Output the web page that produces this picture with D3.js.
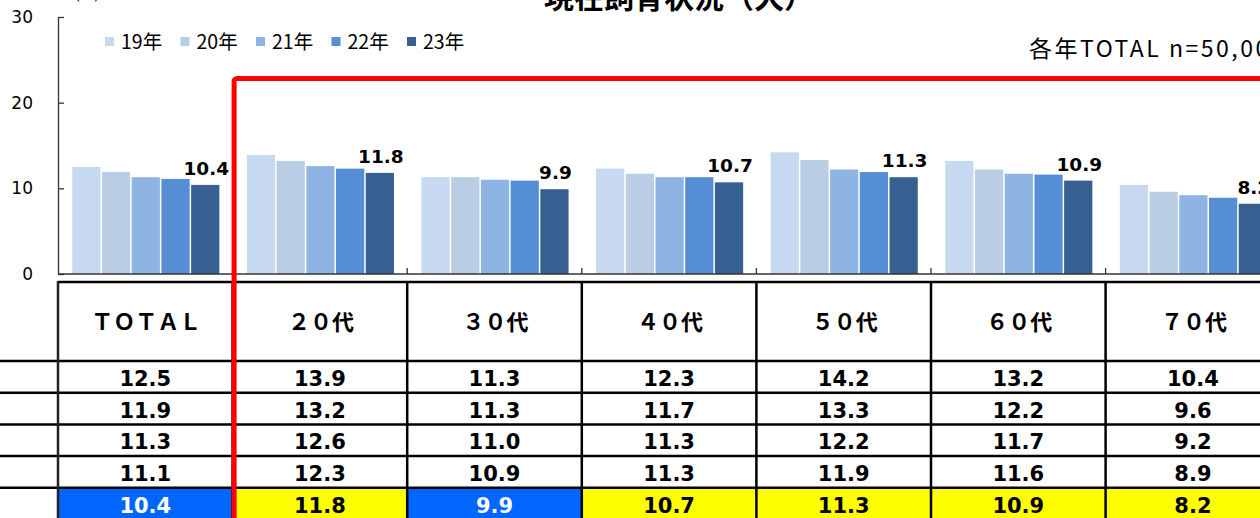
<!DOCTYPE html>
<html>
<head>
<meta charset="utf-8">
<script src="https://cdn.jsdelivr.net/npm/d3@7"></script>
<style>
  body { margin: 0; background: #fff; }
  svg { display: block; }
</style>
</head>
<body>
<div id="chart"></div>
<script>
// data
var categories = ["TOTAL", "20代", "30代", "40代", "50代", "60代", "70代"];
var headerLabels = ["ＴＯＴＡＬ", "２０代", "３０代", "４０代", "５０代", "６０代", "７０代"];
var years = ["19年", "20年", "21年", "22年", "23年"];
var y19 = [12.5, 13.9, 11.3, 12.3, 14.2, 13.2, 10.4];
var y20 = [11.9, 13.2, 11.3, 11.7, 13.3, 12.2, 9.6];
var y21 = [11.3, 12.6, 11.0, 11.3, 12.2, 11.7, 9.2];
var y22 = [11.1, 12.3, 10.9, 11.3, 11.9, 11.6, 8.9];
var y23 = [10.4, 11.8, 9.9, 10.7, 11.3, 10.9, 8.2];
// marking of the latest-year row in the table
var lastRowMark = ["base", "up", "base", "up", "up", "up", "up"];
var yTicks = [0, 10, 20, 30];

var series = [y19, y20, y21, y22, y23];
var colors = ["#c6d9f1", "#b9cde5", "#8eb4e3", "#558ed5", "#366092"];
var markFill = { base: "#0066ff", up: "#ffff00" };
var markText = { base: "#ffffff", up: "#000000" };

var W = 1260, H = 518;
var left = 58, colW = 174.6;
var plotTop = 17, plotBottom = 274;

var svg = d3.select("#chart").append("svg")
    .attr("width", W)
    .attr("height", H);

// scales
var x = d3.scaleBand()
    .domain(categories)
    .range([left, left + colW * categories.length])
    .padding(0);
var x1 = d3.scaleBand()
    .domain(years)
    .range([13.5, colW - 12.5])
    .padding(0);
var y = d3.scaleLinear()
    .domain([0, 30])
    .range([plotBottom, plotTop]);

// title (cut off at top)
svg.append("text")
    .attr("x", 679).attr("y", 8)
    .attr("text-anchor", "middle")
    .style("font-family", "'Noto Sans CJK JP', sans-serif")
    .style("font-size", "30px")
    .style("font-weight", "bold")
    .text("現在飼育状況（犬）");

svg.append("text")
    .attr("x", 87).attr("y", 0)
    .attr("text-anchor", "middle")
    .style("font-family", "'DejaVu Sans', sans-serif")
    .style("font-size", "14px")
    .text("(%)");

// y axis
var yAxis = svg.append("g")
    .attr("transform", "translate(" + left + ",0)")
    .call(d3.axisLeft(y).tickValues(yTicks).tickSizeInner(-6).tickSizeOuter(0).tickPadding(25));
yAxis.select(".domain").attr("stroke", "#333").attr("stroke-width", 1.3);
yAxis.selectAll(".tick line").attr("stroke", "#333").attr("stroke-width", 1.3);
yAxis.selectAll(".tick text")
    .style("font-family", "'DejaVu Sans', sans-serif")
    .style("font-size", "17px")
    .attr("fill", "#000");

// bars
var groups = svg.selectAll(".grp")
    .data(categories)
    .enter().append("g")
    .attr("class", "grp")
    .attr("transform", function(d) { return "translate(" + x(d) + ",0)"; });

groups.selectAll("rect")
    .data(function(d, i) {
      return years.map(function(yr, j) { return { year: yr, value: series[j][i], j: j }; });
    })
    .enter().append("rect")
    .attr("x", function(d) { return x1(d.year) + 0.75; })
    .attr("width", x1.bandwidth() - 1.5)
    .attr("y", function(d) { return y(d.value); })
    .attr("height", function(d) { return y(0) - y(d.value); })
    .attr("fill", function(d) { return colors[d.j]; });

// labels for latest year
groups.append("text")
    .attr("x", function(d) { return x1("23年") + x1.bandwidth() / 2 + 1; })
    .attr("y", function(d, i) { return y(y23[i]) - 10; })
    .attr("text-anchor", "middle")
    .style("font-family", "'DejaVu Sans', sans-serif")
    .style("font-size", "18.5px")
    .style("font-weight", "bold")
    .text(function(d, i) { return y23[i].toFixed(1); });

// x axis line with boundary ticks
svg.append("line")
    .attr("x1", left).attr("x2", W)
    .attr("y1", y(0)).attr("y2", y(0))
    .attr("stroke", "#333").attr("stroke-width", 1.5);
svg.selectAll(".xtick")
    .data(categories.slice(1))
    .enter().append("line")
    .attr("class", "xtick")
    .attr("x1", function(d) { return x(d); })
    .attr("x2", function(d) { return x(d); })
    .attr("y1", y(0) - 6).attr("y2", y(0))
    .attr("stroke", "#333").attr("stroke-width", 1.3);

// legend
var legend = svg.selectAll(".leg")
    .data(years)
    .enter().append("g")
    .attr("class", "leg")
    .attr("transform", function(d, i) { return "translate(" + (105 + i * 75.5) + ",37)"; });
legend.append("rect")
    .attr("width", 9).attr("height", 9)
    .attr("fill", function(d, i) { return colors[i]; });
legend.append("text")
    .attr("x", 16).attr("y", 11.5)
    .style("font-family", "'Noto Sans CJK JP', sans-serif")
    .style("font-size", "19.5px")
    .text(function(d) { return d; });

svg.append("text")
    .attr("x", 1029).attr("y", 57)
    .style("font-family", "'Noto Sans CJK JP', sans-serif")
    .style("font-size", "23px")
    .style("letter-spacing", "2.5px")
    .text("各年TOTAL n=50,000");

// table
var tableTop = 282, headerH = 79, rowH = 31.7;
var rowTops = series.map(function(s, j) { return tableTop + headerH + j * rowH; });

// highlighted latest-year cells
svg.selectAll(".mark")
    .data(categories)
    .enter().append("rect")
    .attr("x", function(d) { return x(d); })
    .attr("y", rowTops[4])
    .attr("width", x.bandwidth())
    .attr("height", rowH + 2)
    .attr("fill", function(d, i) { return markFill[lastRowMark[i]]; });

// header text
svg.selectAll(".hdr")
    .data(headerLabels)
    .enter().append("text")
    .attr("x", function(d, i) { return x(categories[i]) + x.bandwidth() / 2 + 1; })
    .attr("y", tableTop + 48)
    .attr("text-anchor", "middle")
    .style("font-family", "'Noto Sans CJK JP', sans-serif")
    .style("font-size", "22px")
    .style("font-weight", "bold")
    .text(function(d) { return d; });

// value rows
series.forEach(function(s, j) {
  svg.selectAll(".row" + j)
      .data(s)
      .enter().append("text")
      .attr("x", function(d, i) { return x(categories[i]) + x.bandwidth() / 2; })
      .attr("y", rowTops[j] + 25)
      .attr("text-anchor", "middle")
      .attr("fill", function(d, i) { return j === 4 ? markText[lastRowMark[i]] : "#000"; })
      .style("font-family", "'DejaVu Sans', sans-serif")
      .style("font-size", "21px")
      .style("font-weight", "bold")
      .text(function(d) { return d.toFixed(1); });
});

// table lines
svg.append("line")
    .attr("x1", left).attr("x2", W)
    .attr("y1", tableTop).attr("y2", tableTop)
    .attr("stroke", "#000").attr("stroke-width", 2.5);
svg.selectAll(".hline")
    .data(rowTops)
    .enter().append("line")
    .attr("x1", 0).attr("x2", W)
    .attr("y1", function(d) { return d; })
    .attr("y2", function(d) { return d; })
    .attr("stroke", "#000").attr("stroke-width", 2.5);
svg.selectAll(".vline")
    .data(categories)
    .enter().append("line")
    .attr("x1", function(d) { return x(d); })
    .attr("x2", function(d) { return x(d); })
    .attr("y1", tableTop - 1).attr("y2", H)
    .attr("stroke", function(d, i) { return i === 0 ? "#222" : "#000"; })
    .attr("stroke-width", 2.5);

// red frame around age groups
svg.append("rect")
    .attr("x", x("20代") + 1.5)
    .attr("y", 78.5)
    .attr("width", 1200)
    .attr("height", 600)
    .attr("rx", 3)
    .attr("fill", "none")
    .attr("stroke", "#ff0000")
    .attr("stroke-width", 5);
</script>
</body>
</html>
